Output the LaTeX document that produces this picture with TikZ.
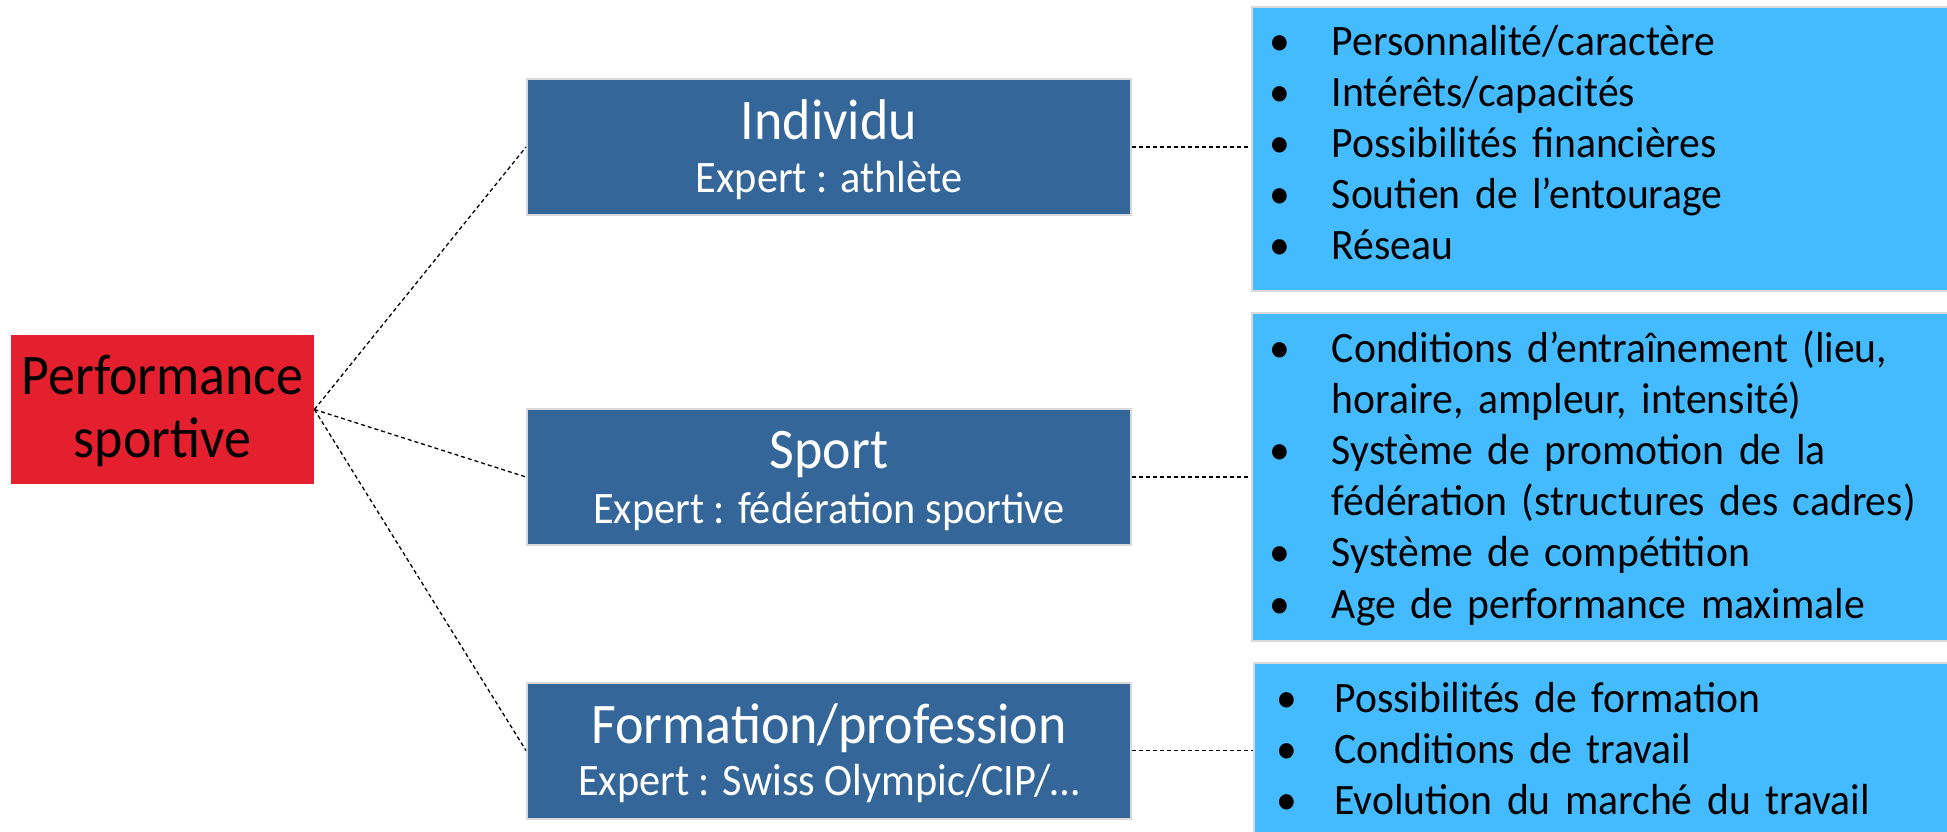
\documentclass[tikz,border=0pt]{standalone}
\usepackage{fontspec}
\setmainfont{Carlito}
\newfontfamily\condA{Carlito}[FakeStretch=0.94]
\newfontfamily\condB{Carlito}[FakeStretch=0.96]
\definecolor{perfred}{RGB}{229,32,46}
\definecolor{darkblue}{RGB}{52,102,153}
\definecolor{lightblue}{RGB}{69,187,255}
\definecolor{edgegrey}{RGB}{217,217,217}
\newcommand\bul[2][31.25pt]{\makebox[#1][l]{•}#2}
\newcommand\cont[2][31.25pt]{\hspace*{#1}#2}
\tikzset{
  dbox/.style={draw=edgegrey, line width=1pt, fill=darkblue, minimum width=302pt, minimum height=68pt, inner sep=0pt},
  lbox/.style={draw=edgegrey, line width=1pt, fill=lightblue, anchor=north west, minimum width=360pt, inner sep=0pt},
  link/.style={dash pattern=on 2pt off 1.5pt, line width=0.65pt},
  ttl/.style={anchor=base, text=white, font=\condA\fontsize{28.7}{30}\selectfont, inner sep=0pt},
  sub/.style={anchor=base, text=white, font=\condA\fontsize{22.5}{24}\selectfont, inner sep=0pt},
  lst/.style={anchor=base west, inner sep=0pt, text width=400pt, align=left, font=\condB\fontsize{21.7}{25.6}\selectfont},
}
\begin{document}
\begin{tikzpicture}[x=0.5pt,y=-0.5pt]
\useasboundingbox (0,0) rectangle (1947,831);
\clip (0,0) rectangle (1947,831);
% left box
\node[fill=perfred, minimum width=151.5pt, minimum height=74.5pt, inner sep=0pt] (perf) at (162.5,409.5) {};
\node[anchor=base, inner sep=0pt, text width=150pt, align=center, font=\condA\fontsize{28.7}{31.5}\selectfont] (perftxt) at (162.5,394) {Performance\\sportive};
% middle boxes
\node[dbox] (ind) at (829,147) {};
\node[ttl] (indT) at (829,139) {Individu};
\node[sub] (indE) at (829,192) {Expert : athlète};
\node[dbox] (spo) at (829,477) {};
\node[ttl] (spoT) at (829,468) {Sport};
\node[sub] (spoE) at (829,523) {Expert : fédération sportive};
\node[dbox] (form) at (829,750.5) {};
\node[ttl] (formT) at (829,743) {Formation/profession};
\node[sub] (formE) at (829,795) {Expert : Swiss Olympic/CIP/…};
% right boxes
\node[lbox, minimum height=142pt] (l1) at (1251,6) {};
\node[lbox, minimum height=164pt] (l2) at (1251,312) {};
\node[lbox, minimum height=100pt] (l3) at (1253,662) {};
\node[lst] (t1) at (1269,55) {\bul{Personnalité/caractère}\\\bul{Intérêts/capacités}\\\bul{Possibilités financières}\\\bul{Soutien de l’entourage}\\\bul{Réseau}};
\node[lst] (t2) at (1269,362) {\bul{Conditions d’entraînement (lieu,}\\\cont{horaire, ampleur, intensité)}\\\bul{Système de promotion de la}\\\cont{fédération (structures des cadres)}\\\bul{Système de compétition}\\\bul{Age de performance maximale}};
\node[lst] (t3) at (1276,712) {\bul[29pt]{Possibilités de formation}\\\bul[29pt]{Conditions de travail}\\\bul[29pt]{Evolution du marché du travail}};
% connectors
\draw[link] (perf.east) -- (ind.west);
\draw[link] (perf.east) -- (spo.west);
\draw[link] (perf.east) -- (form.west);
\draw[link] (ind.east) -- (ind.east -| l1.west);
\draw[link] (spo.east) -- (spo.east -| l2.west);
\draw[link] (form.east) -- (form.east -| l3.west);
\end{tikzpicture}
\end{document}
